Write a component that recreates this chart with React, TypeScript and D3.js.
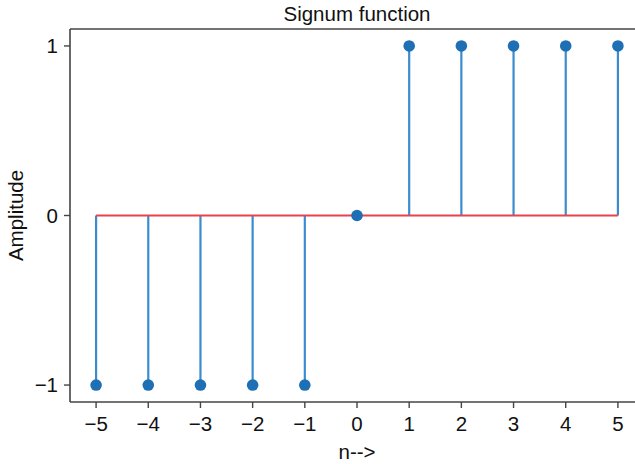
import React from "react";
import * as d3 from "d3";

const nValues = [-5, -4, -3, -2, -1, 0, 1, 2, 3, 4, 5];
const amplitudes = [-1, -1, -1, -1, -1, 0, 1, 1, 1, 1, 1];
const xTicks = [-5, -4, -3, -2, -1, 0, 1, 2, 3, 4, 5];
const yTicks = [-1, 0, 1];
const titleText = "Signum function";
const xLabel = "n-->";
const yLabel = "Amplitude";

const W = 635;
const H = 464;
const left = 70;
const top = 29;
const right = 644;
const bottom = 402;

const fmt = (v: number) => (v < 0 ? "\u2212" + Math.abs(v) : String(v));

export default function App() {
  const x = d3.scaleLinear().domain([-5.5, 5.5]).range([left, right]);
  const y = d3.scaleLinear().domain([-1.1, 1.1]).range([bottom, top]);
  const font = "'Liberation Sans', Arial, Helvetica, sans-serif";
  const fs = 20.5;
  return (
    <svg
      width={W}
      height={H}
      style={{ position: "fixed", left: 0, top: 0, background: "#fff" }}
      fontFamily={font}
    >
      <rect x={0} y={0} width={W} height={H} fill="#fff" />
      {nValues.map((n, i) => (
        <line
          key={"s" + i}
          x1={x(n)}
          x2={x(n)}
          y1={y(0)}
          y2={y(amplitudes[i])}
          stroke="#3a8cce"
          strokeWidth={2.2}
        />
      ))}
      <line
        x1={x(d3.min(nValues)!)}
        x2={x(d3.max(nValues)!)}
        y1={y(0)}
        y2={y(0)}
        stroke="#e8434c"
        strokeWidth={2.2}
      />
      {nValues.map((n, i) => (
        <circle key={"m" + i} cx={x(n)} cy={y(amplitudes[i])} r={5.8} fill="#1f6fb5" />
      ))}
      <line x1={left} x2={left} y1={top} y2={bottom} stroke="#444" strokeWidth={1.6} />
      <line x1={left} x2={right} y1={top} y2={top} stroke="#444" strokeWidth={1.6} />
      <line x1={left} x2={right} y1={bottom} y2={bottom} stroke="#444" strokeWidth={1.6} />
      {xTicks.map((t) => (
        <g key={"xt" + t} transform={`translate(${x(t)},${bottom})`}>
          <line y1={0} y2={6} stroke="#444" strokeWidth={1.4} />
          <text y={29} textAnchor="middle" fontSize={fs} fill="#111">
            {fmt(t)}
          </text>
        </g>
      ))}
      {yTicks.map((t) => (
        <g key={"yt" + t} transform={`translate(${left},${y(t)})`}>
          <line x1={0} x2={-6} stroke="#444" strokeWidth={1.4} />
          <text x={-12} dy="0.35em" textAnchor="end" fontSize={fs} fill="#111">
            {fmt(t)}
          </text>
        </g>
      ))}
      <text x={(left + right) / 2} y={21} textAnchor="middle" fontSize={fs} fill="#111">
        {titleText}
      </text>
      <text x={(left + right) / 2} y={459} textAnchor="middle" fontSize={fs} fill="#111">
        {xLabel}
      </text>
      <text
        transform={`translate(23,${(top + bottom) / 2}) rotate(-90)`}
        textAnchor="middle"
        fontSize={fs}
        fill="#111"
      >
        {yLabel}
      </text>
    </svg>
  );
}
